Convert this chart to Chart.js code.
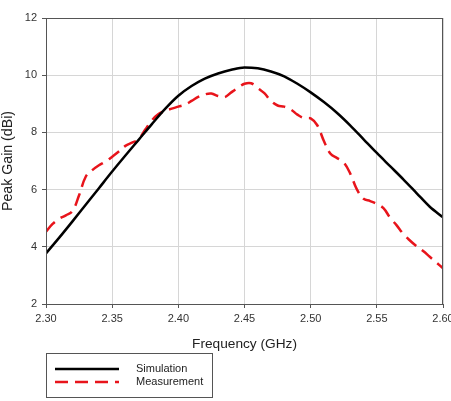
<!DOCTYPE html>
<html>
<head>
<meta charset="utf-8">
<script src="https://cdn.jsdelivr.net/npm/chart.js@4.4.1/dist/chart.umd.min.js"></script>
<style>
  html, body { margin: 0; padding: 0; background: #fff; overflow: hidden; }
  #wrap { position: relative; width: 462px; height: 401px; }
</style>
</head>
<body>
<div id="wrap"><canvas id="chart"></canvas></div>
<script>
// frequencies in GHz
const simFreq = [2.30, 2.31, 2.32, 2.33, 2.34, 2.35, 2.36, 2.37, 2.38, 2.39, 2.40,
  2.41, 2.42, 2.43, 2.44, 2.45, 2.46, 2.47, 2.48, 2.49, 2.50,
  2.51, 2.52, 2.53, 2.54, 2.55, 2.56, 2.57, 2.58, 2.59, 2.60];
const simGain = [3.77, 4.32, 4.89, 5.47, 6.05, 6.63, 7.19, 7.74, 8.29, 8.82, 9.28,
  9.62, 9.88, 10.06, 10.19, 10.27, 10.24, 10.13, 9.96, 9.70, 9.40,
  9.06, 8.68, 8.24, 7.76, 7.28, 6.82, 6.36, 5.88, 5.40, 5.03];

const measFreq = [2.300, 2.305, 2.310, 2.315, 2.320, 2.325, 2.330, 2.335, 2.340, 2.345,
  2.350, 2.355, 2.360, 2.365, 2.370, 2.375, 2.380, 2.385, 2.390, 2.395,
  2.400, 2.405, 2.410, 2.415, 2.420, 2.425, 2.430, 2.435, 2.440, 2.445,
  2.450, 2.455, 2.460, 2.465, 2.470, 2.475, 2.480, 2.485, 2.490, 2.495,
  2.500, 2.505, 2.510, 2.515, 2.520, 2.525, 2.530, 2.535, 2.540, 2.545,
  2.550, 2.555, 2.560, 2.565, 2.570, 2.575, 2.580, 2.585, 2.590, 2.595, 2.600];
const measGain = [4.53, 4.80, 4.98, 5.10, 5.25, 5.80, 6.45, 6.68, 6.85, 6.98,
  7.15, 7.33, 7.53, 7.64, 7.76, 8.10, 8.42, 8.64, 8.75, 8.83,
  8.90, 8.97, 9.10, 9.24, 9.33, 9.36, 9.27, 9.23, 9.40, 9.56,
  9.70, 9.72, 9.55, 9.37, 9.10, 8.94, 8.90, 8.80, 8.62, 8.50,
  8.49, 8.25, 7.70, 7.25, 7.10, 6.95, 6.55, 6.00, 5.68, 5.60,
  5.50, 5.35, 5.02, 4.75, 4.45, 4.22, 4.02, 3.85, 3.65, 3.45, 3.25];

const seriesNames = ['Simulation', 'Measurement'];
const xTicks = [2.30, 2.35, 2.40, 2.45, 2.50, 2.55, 2.60];
const yTicks = [2, 4, 6, 8, 10, 12];

const toPoints = (xs, ys) => xs.map((x, i) => ({ x: x, y: ys[i] }));

const FONT = 'Arial, "Liberation Sans", sans-serif';

// frame around the plot area + boxed legend under the chart
const framePlugin = {
  id: 'frame',
  afterDraw(chart) {
    const { ctx, chartArea: a } = chart;
    ctx.save();
    ctx.strokeStyle = '#555';
    ctx.lineWidth = 1;
    ctx.strokeRect(a.left + 0.5, a.top + 0.5, a.right - a.left - 1, a.bottom - a.top);

    // legend box
    const bx = 46.5, by = 353.5, bw = 166, bh = 44;
    ctx.strokeStyle = '#555';
    ctx.strokeRect(bx, by, bw, bh);
    chart.data.datasets.forEach((ds, i) => {
      const y = 369 + i * 13;
      ctx.beginPath();
      ctx.strokeStyle = ds.borderColor;
      ctx.lineWidth = ds.borderWidth;
      ctx.setLineDash(ds.borderDash || []);
      ctx.moveTo(55, y);
      ctx.lineTo(119, y);
      ctx.stroke();
      ctx.setLineDash([]);
      ctx.fillStyle = '#222';
      ctx.font = '11px ' + FONT;
      ctx.textBaseline = 'middle';
      ctx.textAlign = 'left';
      ctx.fillText(ds.label, 136, y);
    });
    ctx.restore();
  }
};

new Chart(document.getElementById('chart'), {
  type: 'line',
  data: {
    datasets: [
      {
        label: seriesNames[0],
        data: toPoints(simFreq, simGain),
        borderColor: '#000000',
        borderWidth: 2.5,
        pointRadius: 0,
        cubicInterpolationMode: 'monotone',
        fill: false
      },
      {
        label: seriesNames[1],
        data: toPoints(measFreq, measGain),
        borderColor: '#e8141b',
        borderWidth: 2.5,
        borderDash: [13, 7],
        pointRadius: 0,
        tension: 0.4,
        fill: false
      }
    ]
  },
  options: {
    responsive: true,
    maintainAspectRatio: false,
    animation: false,
    layout: { padding: { left: 0, right: 19, top: 18, bottom: 40 } },
    plugins: {
      legend: { display: false },
      tooltip: { enabled: false }
    },
    scales: {
      x: {
        type: 'linear',
        min: 2.30,
        max: 2.60,
        afterBuildTicks: (scale) => { scale.ticks = xTicks.map(v => ({ value: v })); },
        afterFit: (scale) => { scale.height = 57; },
        ticks: {
          callback: (v) => Number(v).toFixed(2),
          font: { family: FONT, size: 11 },
          color: '#333',
          padding: 4,
          maxRotation: 0,
          autoSkip: false
        },
        grid: { color: '#d6d6d6', lineWidth: 1, tickLength: 4, tickColor: '#555' },
        border: { color: '#555', width: 1 },
        title: {
          display: true,
          text: 'Frequency (GHz)',
          font: { family: FONT, size: 13.7 },
          color: '#222',
          padding: { top: 0, bottom: 9 }
        }
      },
      y: {
        min: 2,
        max: 12,
        afterBuildTicks: (scale) => { scale.ticks = yTicks.map(v => ({ value: v })); },
        afterFit: (scale) => { scale.width = 46; },
        ticks: {
          font: { family: FONT, size: 11 },
          color: '#333',
          padding: 5
        },
        grid: { color: '#d6d6d6', lineWidth: 1, tickLength: 4, tickColor: '#555' },
        border: { color: '#555', width: 1 },
        title: {
          display: true,
          text: 'Peak Gain (dBi)',
          font: { family: FONT, size: 14.2 },
          color: '#222',
          padding: 0
        }
      }
    }
  },
  plugins: [framePlugin]
});
</script>
</body>
</html>
